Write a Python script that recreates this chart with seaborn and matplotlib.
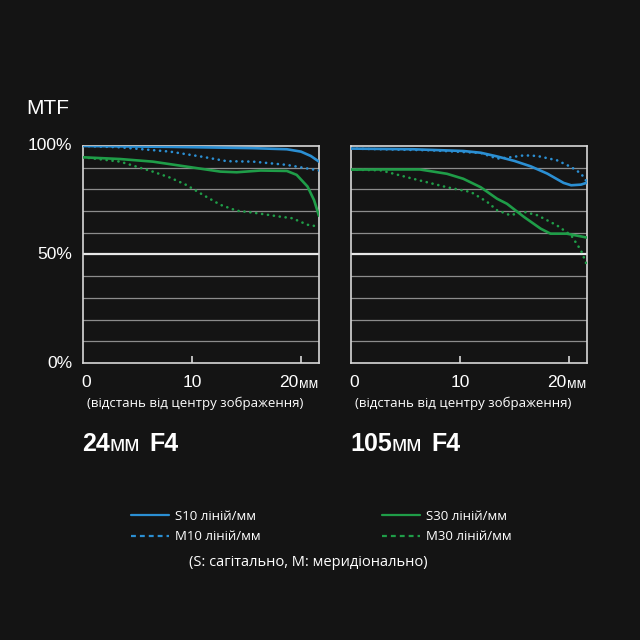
import numpy as np
import pandas as pd
import matplotlib
matplotlib.use("Agg")
import matplotlib.pyplot as plt
import seaborn as sns
from matplotlib.lines import Line2D

# --- data (position in mm, MTF in %) ---
# 24mm F4
w_s10_x = [0, 4, 8, 12, 15.6, 18.7, 20.0, 20.9, 21.65]
w_s10_y = [100, 99.8, 99.6, 99.3, 99.0, 98.5, 97.4, 95.4, 92.8]
w_m10_x = [0, 3.4, 8.0, 11.0, 13.2, 15.6, 18.7, 21.65]
w_m10_y = [100, 99.4, 97.4, 95.0, 93.0, 92.8, 91.3, 88.7]
w_s30_x = [0, 3.4, 6.4, 9.5, 12.6, 14.1, 16.3, 18.7, 19.6, 20.6, 21.2, 21.65]
w_s30_y = [94.8, 94.0, 92.8, 90.5, 88.2, 87.9, 88.7, 88.5, 86.7, 81.3, 75.0, 67.8]
w_m30_x = [0, 3.4, 6.4, 8.0, 9.5, 11.0, 12.6, 14.1, 15.6, 18.0, 19.2, 20.6, 21.2, 21.65]
w_m30_y = [94.8, 92.8, 88.2, 85.4, 82.0, 77.5, 72.9, 70.2, 69.3, 67.5, 66.7, 63.7, 63.2, 64.4]

# 105mm F4
t_s10_x = [0, 5.7, 10.3, 11.9, 13.4, 15.0, 16.5, 18.0, 19.5, 20.2, 21.1, 21.65]
t_s10_y = [98.8, 98.5, 97.7, 96.9, 95.2, 93.1, 90.6, 87.3, 83.0, 81.9, 82.2, 83.1]
t_m10_x = [0, 7.3, 11.9, 13.4, 14.3, 15.9, 17.1, 18.9, 20.2, 21.1, 21.65]
t_m10_y = [98.8, 98.0, 96.8, 94.2, 94.6, 95.7, 95.4, 93.4, 90.3, 87.3, 83.4]
t_s30_x = [0, 2.7, 6.3, 8.8, 10.3, 11.9, 13.4, 14.3, 15.9, 17.4, 18.3, 19.8, 21.65]
t_s30_y = [89.1, 89.2, 89.2, 87.2, 84.9, 81.0, 75.7, 73.4, 67.2, 61.9, 59.6, 59.6, 57.8]
t_m30_x = [0, 2.7, 5.7, 8.8, 11.0, 12.5, 13.4, 14.6, 15.9, 17.1, 18.9, 20.2, 21.1, 21.65]
t_m30_y = [89.1, 88.8, 84.9, 81.0, 78.8, 74.2, 70.4, 68.1, 69.6, 68.1, 63.4, 58.8, 51.9, 45.0]

panels = ["24мм", "105мм"]
series = ["S10", "M10", "S30", "M30"]
legend_labels = ["S10 ліній/мм", "M10 ліній/мм", "S30 ліній/мм", "M30 ліній/мм"]
x_ticks = [10, 20]
y_labels = {100: "100%", 50: "50%", 0: "0%"}
x_label = "(відстань від центру зображення)"
note = "(S: сагітально, M: меридіонально)"

raw = {
    "24мм": [(w_s10_x, w_s10_y), (w_m10_x, w_m10_y), (w_s30_x, w_s30_y), (w_m30_x, w_m30_y)],
    "105мм": [(t_s10_x, t_s10_y), (t_m10_x, t_m10_y), (t_s30_x, t_s30_y), (t_m30_x, t_m30_y)],
}
rows = []
for p in panels:
    for s, (xs, ys) in zip(series, raw[p]):
        for x, y in zip(xs, ys):
            rows.append({"panel": p, "series": s, "pos": x, "mtf": y})
df = pd.DataFrame(rows)

BG = "#141414"
BLUE = "#2b8fd3"
GREEN = "#1f9d48"
palette = {"S10": BLUE, "M10": BLUE, "S30": GREEN, "M30": GREEN}
# dotted: tiny dashes + round caps give round dots
dashes = {"S10": "", "M10": (0.05, 2.2), "S30": "", "M30": (0.05, 2.2)}

sns.set_theme(style="dark")
plt.rcParams["font.family"] = ["Liberation Sans", "DejaVu Sans"]
plt.rcParams["text.color"] = "white"

fig = plt.figure(figsize=(6.4, 6.4), dpi=100, facecolor=BG)
W = 640.0

def fx(px):
    return px / W

def fy(py):
    return 1 - py / W

axes = []
for left in (83, 351):
    ax = fig.add_axes([fx(left), fy(363), 236 / W, 217 / W])
    axes.append(ax)

for p, ax in zip(panels, axes):
    ax.set_facecolor(BG)
    for y in range(10, 100, 10):
        ax.axhline(y, color="#e8e8e8" if y == 50 else "#8c8c8c",
                   lw=1.6 if y == 50 else 0.9, zorder=1)
    sns.lineplot(data=df[df["panel"] == p], x="pos", y="mtf", hue="series",
                 style="series", palette=palette, dashes=dashes, lw=1.9,
                 legend=False, ax=ax, zorder=3, estimator=None, sort=False)
    for line in ax.lines:
        line.set_dash_capstyle("round")
    ax.set_xlim(0, 21.65)
    ax.set_ylim(0, 100)
    ax.set_xlabel("")
    ax.set_ylabel("")
    ax.set_xticks(x_ticks)
    ax.set_xticklabels([])
    ax.tick_params(axis="x", direction="in", length=5, width=1.2,
                   color="#d8d8d8", bottom=True)
    ax.set_yticks([])
    for sp in ax.spines.values():
        sp.set_color("#d8d8d8")
        sp.set_linewidth(1.2)
        sp.set_visible(True)
    ax.grid(False)
    tr = ax.get_xaxis_transform()
    ax.text(0.3, -0.088, "0", ha="center", va="center", fontsize=12.5,
            transform=tr)
    ax.text(10, -0.088, "10", ha="center", va="center", fontsize=12.5,
            transform=tr)
    ax.text(19.8, -0.088, "20", ha="right", va="center", fontsize=12.5,
            transform=tr)
    ax.text(19.85, -0.095, "мм", ha="left", va="center", fontsize=10,
            transform=tr)
    ax.text(10.3, -0.186, x_label, ha="center", va="center", fontsize=9.5,
            transform=tr, family=["Open Sans", "DejaVu Sans"])

# y labels on the left panel only
for v, lab in y_labels.items():
    axes[0].text(-0.045, v, lab, ha="right", va="center", fontsize=12.5,
                 transform=axes[0].get_yaxis_transform())
fig.text(fx(26), fy(108), "MTF", ha="left", va="center", fontsize=15)

# titles with mixed runs
fig.canvas.draw()
renderer = fig.canvas.get_renderer()

def run_text(x0, y0, runs):
    x = x0
    for s, size, weight in runs:
        t = fig.text(x, y0, s, ha="left", va="baseline", fontsize=size,
                     fontweight=weight, fontstretch="condensed",
                     family=["Liberation Sans Narrow", "Liberation Sans", "DejaVu Sans"])
        bb = t.get_window_extent(renderer=renderer)
        x = x + bb.width / W

for p, left in zip(panels, (82, 350)):
    num = p.replace("мм", "")
    run_text(fx(left), fy(451), [(num, 18, "bold"), ("мм", 16, "normal"),
                                  ("  ", 12, "normal"), ("F4", 18, "bold")])

# legend
handles = []
for s in series:
    handles.append(Line2D([], [], color=palette[s], lw=1.6,
                          ls="-" if s.startswith("S") else (0, (2.2, 1.8))))
leg = fig.legend(handles, legend_labels, loc="upper left",
                 bbox_to_anchor=(fx(131), fy(510)), ncol=2, frameon=False,
                 handlelength=2.9, handletextpad=0.45,
                 columnspacing=9.2, labelspacing=0.55, borderpad=0,
                 borderaxespad=0,
                 prop={"family": ["Open Sans", "DejaVu Sans"], "size": 9.5})
for t in leg.get_texts():
    t.set_color("white")
fig.text(fx(308), fy(562), note, ha="center", va="center", fontsize=10.5,
         family=["Open Sans", "DejaVu Sans"])

fig.savefig("out.png", dpi=100, facecolor=BG)
